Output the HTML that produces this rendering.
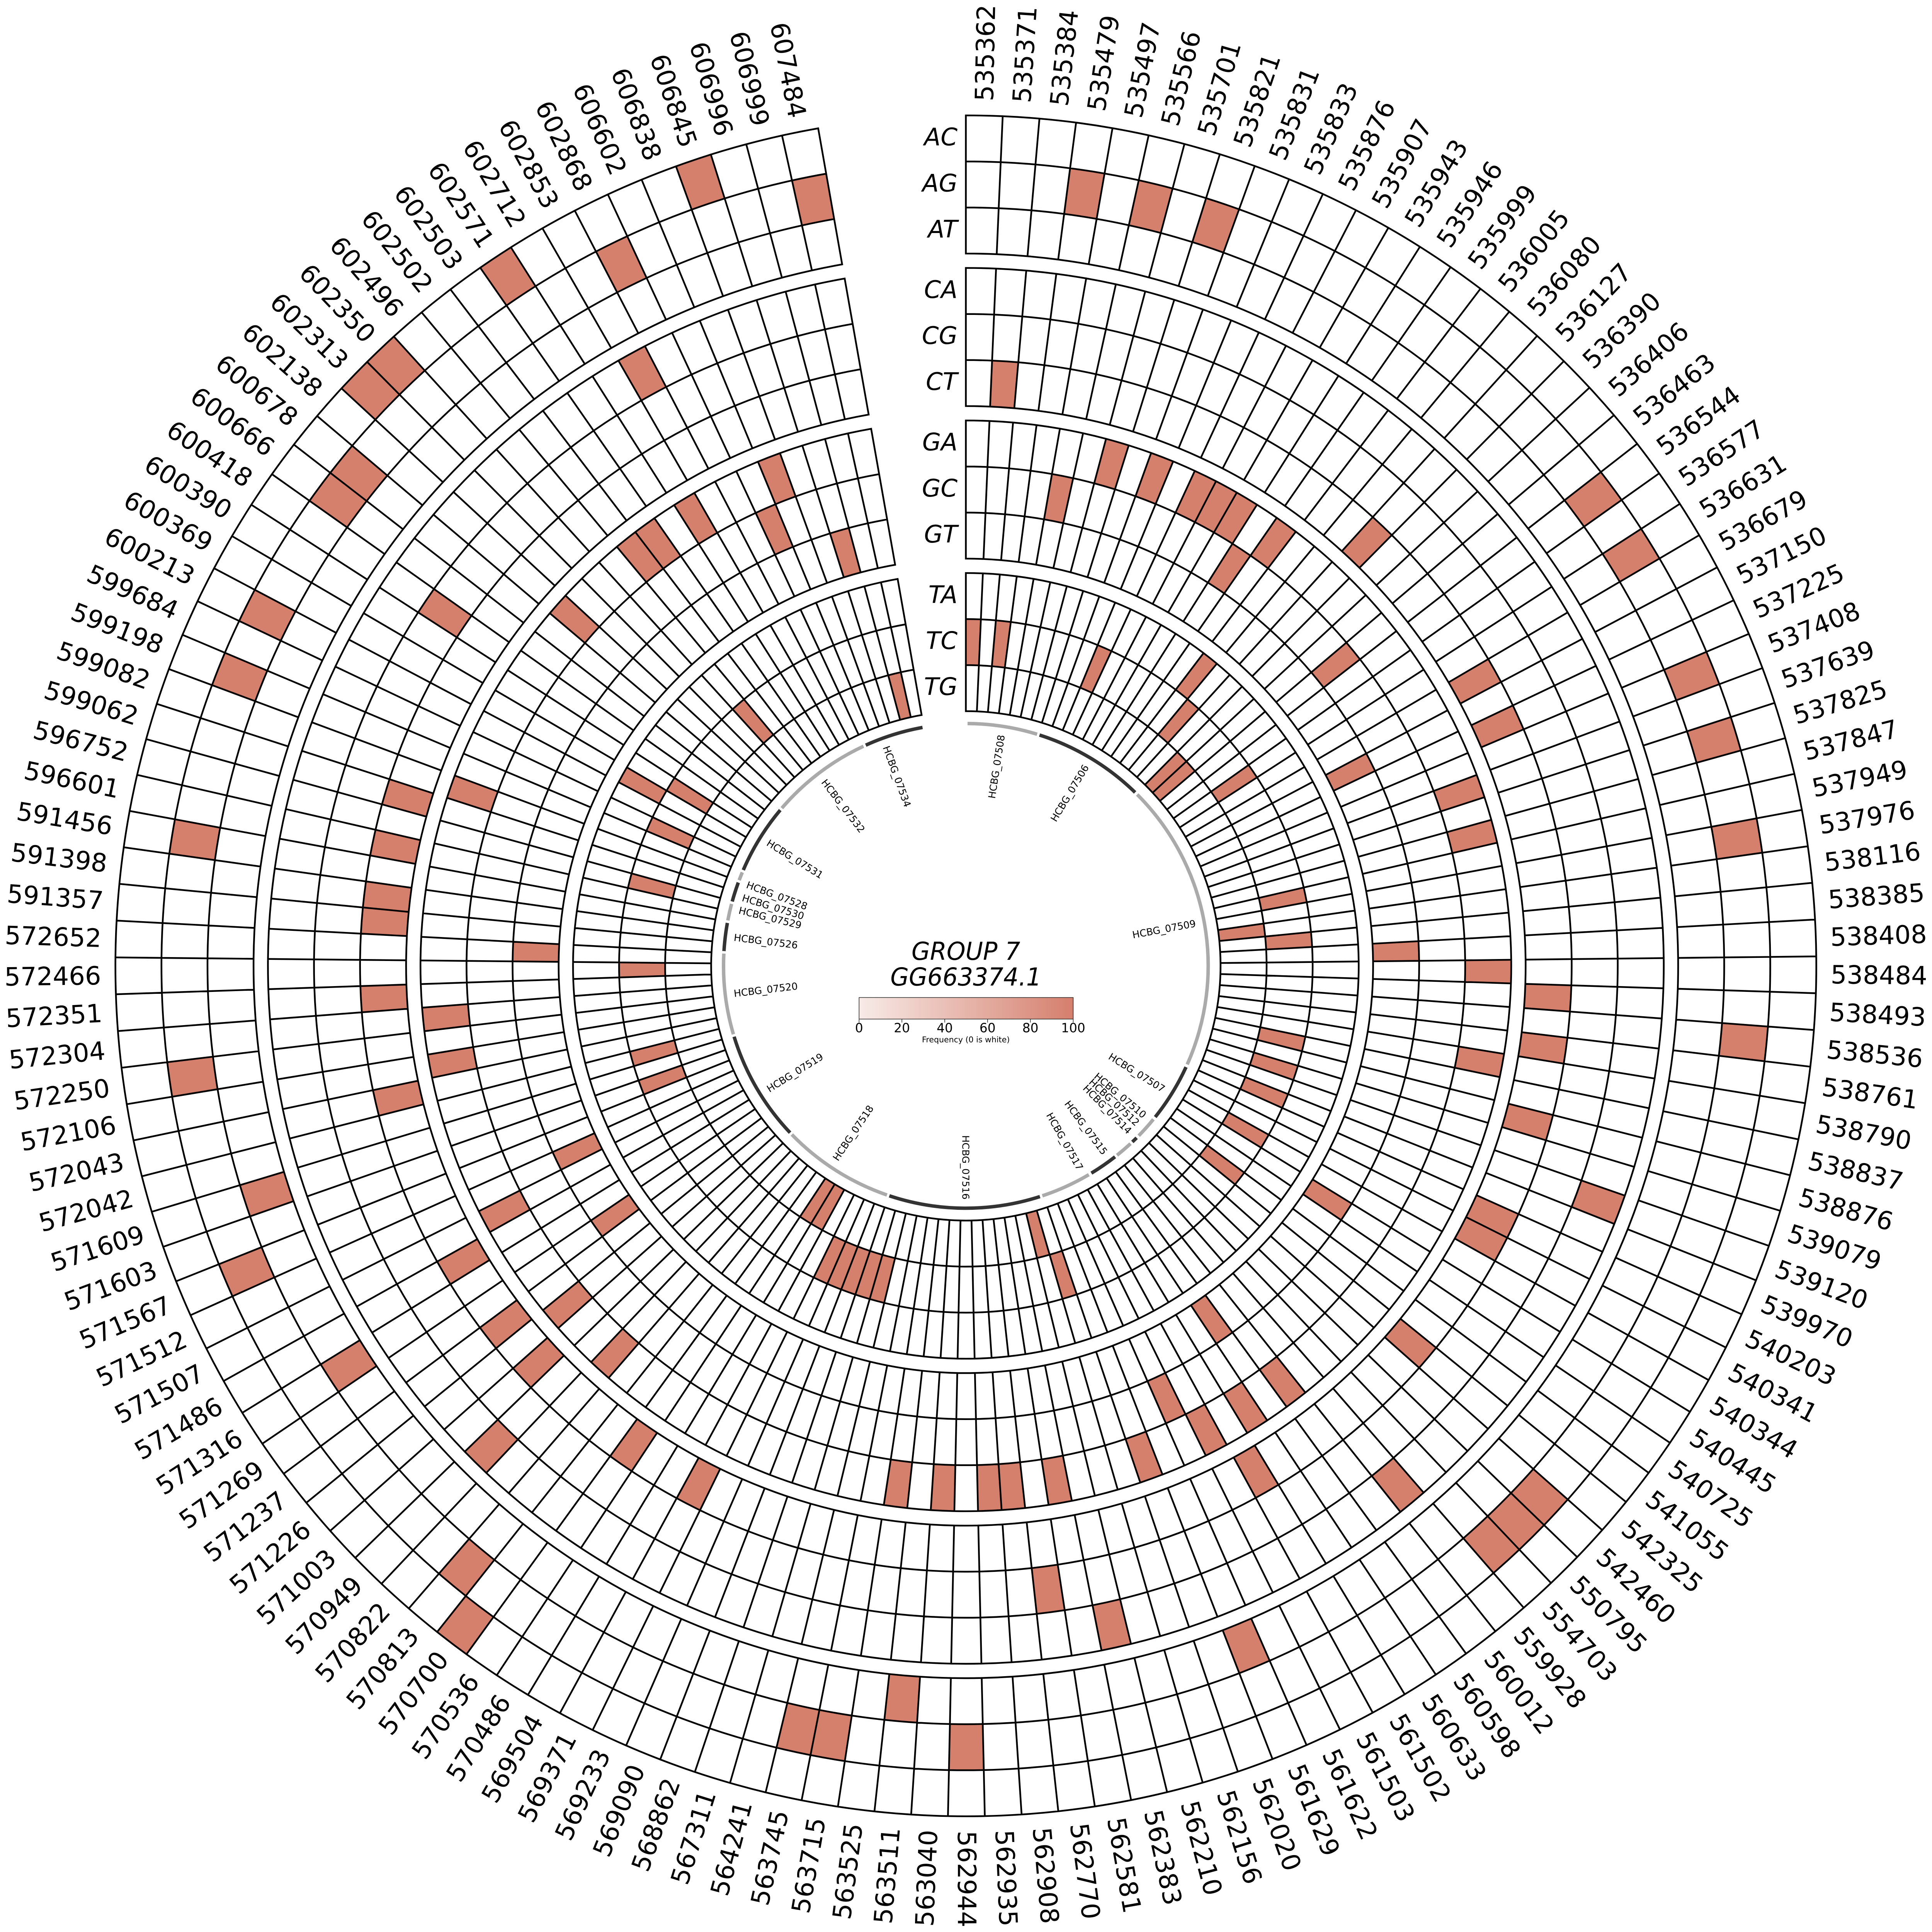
<!DOCTYPE html>
<html><head><meta charset="utf-8"><style>html,body{margin:0;padding:0;background:#fff;overflow:hidden;width:100%;height:100%}svg{display:block;width:100vw;height:100vh}</style></head>
<body>
<svg id="s" xmlns="http://www.w3.org/2000/svg" viewBox="0 0 6713 6713" preserveAspectRatio="xMidYMid meet">
<defs><linearGradient id="g" x1="0" x2="1" y1="0" y2="0"><stop offset="0" stop-color="#f8ebe8"/><stop offset="1" stop-color="#d57f6d"/></linearGradient></defs>
<rect width="6713" height="6713" fill="#fff"/>
<g id="cells"></g><g id="genes"></g><g id="labs" font-family="DejaVu Sans, Liberation Sans, sans-serif"></g>
<g font-family="DejaVu Sans, Liberation Sans, sans-serif" font-style="italic" text-anchor="end" font-size="84">
<text x="3327" y="505">AC</text><text x="3327" y="665">AG</text><text x="3327" y="825">AT</text>
<text x="3327" y="1035">CA</text><text x="3327" y="1195">CG</text><text x="3327" y="1355">CT</text>
<text x="3327" y="1565">GA</text><text x="3327" y="1725">GC</text><text x="3327" y="1885">GT</text>
<text x="3327" y="2095">TA</text><text x="3327" y="2255">TC</text><text x="3327" y="2415">TG</text>
</g>
<g font-family="DejaVu Sans, Liberation Sans, sans-serif" font-style="italic" text-anchor="middle" font-size="86">
<text x="3356" y="3335" textLength="378" lengthAdjust="spacingAndGlyphs">GROUP 7</text>
<text x="3356" y="3424" textLength="525" lengthAdjust="spacingAndGlyphs">GG663374.1</text>
</g>
<rect x="2985" y="3466" width="744" height="75" fill="url(#g)" stroke="#222" stroke-width="2"/>
<g id="cb" font-family="DejaVu Sans, Liberation Sans, sans-serif" font-size="44" text-anchor="middle"></g>
<text x="3356" y="3622" font-family="DejaVu Sans, Liberation Sans, sans-serif" font-size="27" text-anchor="middle" textLength="305" lengthAdjust="spacingAndGlyphs">Frequency (0 is white)</text>
</svg>
<script>
(function(){
var NS="http://www.w3.org/2000/svg",C=3356,N=141,step=350/N,FILL="#d57f6d";
function P(r,a){a=a*Math.PI/180;return (C+r*Math.sin(a)).toFixed(1)+","+(C-r*Math.cos(a)).toFixed(1);}
function el(t,at,parent,txt){var e=document.createElementNS(NS,t);for(var k in at)e.setAttribute(k,at[k]);if(txt!==undefined)e.textContent=txt;parent.appendChild(e);return e;}
var fills={
0:[87,126,127,131,137],
1:[3,5,7,21,23,27,29,32,38,53,54,55,72,76,77,88,99,105,112,117,119,123,124,134,140],
2:[63,74,95,101],
3:[44,56,67,90,133],
4:[69,122],
5:[1,17,24,26,37,39,42,46,47,52,60,83,86,91,93,96,103,107,110,111,113,115],
6:[6,8,10,11,12,14,28,30,36,40,57,59,61,64,68,70,71,73,75,89,92,97,104,106,116,125,129,130,132,136],
7:[4,13,20,62,135],
8:[25,35,49,58,94,98,109,138],
9:[15,120],
10:[0,2,9,16,22,31,34,41,43,45,48,51,65,78,79,80,81,82,100,102,108,114,118,121,128],
11:[18,19,33,66,84,85,139]};
var ringOuter=[2955,2425,1895,1365];
var cg=document.getElementById("cells");
var d="",dfill="";
for(var row=0;row<12;row++){
 var k=Math.floor(row/3),i=row%3,r2=ringOuter[k]-160*i,r1=r2-160;
 var set={};(fills[row]||[]).forEach(function(c){set[c]=1;});
 for(var c=0;c<N;c++){
  var a1=c*step,a2=(c+1)*step;
  var p="M"+P(r2,a1)+"A"+r2+","+r2+" 0 0 1 "+P(r2,a2)+"L"+P(r1,a2)+"A"+r1+","+r1+" 0 0 0 "+P(r1,a1)+"Z";
  d+=p; if(set[c])dfill+=p;
 }
}
el("path",{d:dfill,fill:FILL,stroke:"none"},cg);
el("path",{d:d,fill:"none",stroke:"#000","stroke-width":6,"stroke-linejoin":"miter"},cg);
var labs=["535362","535371","535384","535479","535497","535566","535701","535821","535831","535833","535876","535907","535943","535946","535999","536005","536080","536127","536390","536406","536463","536544","536577","536631","536679","537150","537225","537408","537639","537825","537847","537949","537976","538116","538385","538408","538484","538493","538536","538761","538790","538837","538876","539079","539120","539970","540203","540341","540344","540445","540725","541055","542325","542460","550795","554703","559928","560012","560598","560633","561502","561503","561622","561629","562020","562156","562210","562383","562581","562770","562908","562935","562944","563040","563511","563525","563715","563745","564241","567311","568862","569090","569233","569371","569504","570486","570536","570700","570813","570822","570949","571003","571226","571237","571269","571316","571486","571507","571512","571567","571603","571609","572042","572043","572106","572250","572304","572351","572466","572652","591357","591398","591456","596601","596752","599062","599082","599198","599684","600213","600369","600390","600418","600666","600678","602138","602313","602350","602496","602502","602503","602571","602712","602853","602868","606602","606838","606845","606996","606999","607484"];
var lg=document.getElementById("labs");
for(var c=0;c<N;c++){
 var a=(c+0.5)*step,p=P(3005,a).split(","),rot,anc;
 if(a<180){rot=a-90;anc="start";}else{rot=a-270;anc="end";}
 el("text",{x:p[0],y:p[1],"font-size":88,"text-anchor":anc,"dominant-baseline":"central",transform:"rotate("+rot.toFixed(2)+" "+p[0]+" "+p[1]+")"},lg,labs[c]);
}
var genes=[[0.4,17.1,0,"HCBG_07508",8.75],[17.7,44.3,1,"HCBG_07506",31],[45,114,0,"HCBG_07509",79.5],[114.7,128.6,1,"HCBG_07507",122],[129.3,134.5,0,"HCBG_07510",130],[135.2,136.6,1,"HCBG_07512",132.6],[137.2,141.4,0,"HCBG_07514",135.4],[142,148.8,1,"HCBG_07515",143.4],[149.5,161.6,0,"HCBG_07517",150.6],[162.2,198.4,1,"HCBG_07516",180],[199,225.9,0,"HCBG_07518",214],[226.5,253,1,"HCBG_07519",238],[253.6,272.9,0,"HCBG_07520",263.2],[273.5,280.2,1,"HCBG_07526",277],[280.8,284.8,0,"HCBG_07529",283.8],[285.4,290.1,1,"HCBG_07530",287],[290.7,292.7,0,"HCBG_07528",290.4],[293.3,310,1,"HCBG_07531",302],[310.6,335,0,"HCBG_07532",322.5],[335.6,349.7,1,"HCBG_07534",340]];
var gg=document.getElementById("genes"),R=842;
genes.forEach(function(g){
 el("path",{d:"M"+P(R,g[0])+"A"+R+","+R+" 0 0 1 "+P(R,g[1]),fill:"none",stroke:g[2]?"#333333":"#aaaaaa","stroke-width":12},gg);
 var a=g[4],p=P(812,a).split(","),rot,anc;
 if(a<=180){rot=a-90;anc="end";}else{rot=a-270;anc="start";}
 el("text",{x:p[0],y:p[1],"font-size":34,"font-family":"DejaVu Sans, Liberation Sans, sans-serif","text-anchor":anc,"dominant-baseline":"central",transform:"rotate("+rot.toFixed(2)+" "+p[0]+" "+p[1]+")"},gg,g[3]);
});
var cb=document.getElementById("cb");
[0,20,40,60,80,100].forEach(function(v){
 var x=2985+744*v/100;
 el("line",{x1:x,y1:3541,x2:x,y2:3553,stroke:"#222","stroke-width":2},cb);
 el("text",{x:x,y:3587},cb,String(v));
});
})();
</script>
</body></html>
